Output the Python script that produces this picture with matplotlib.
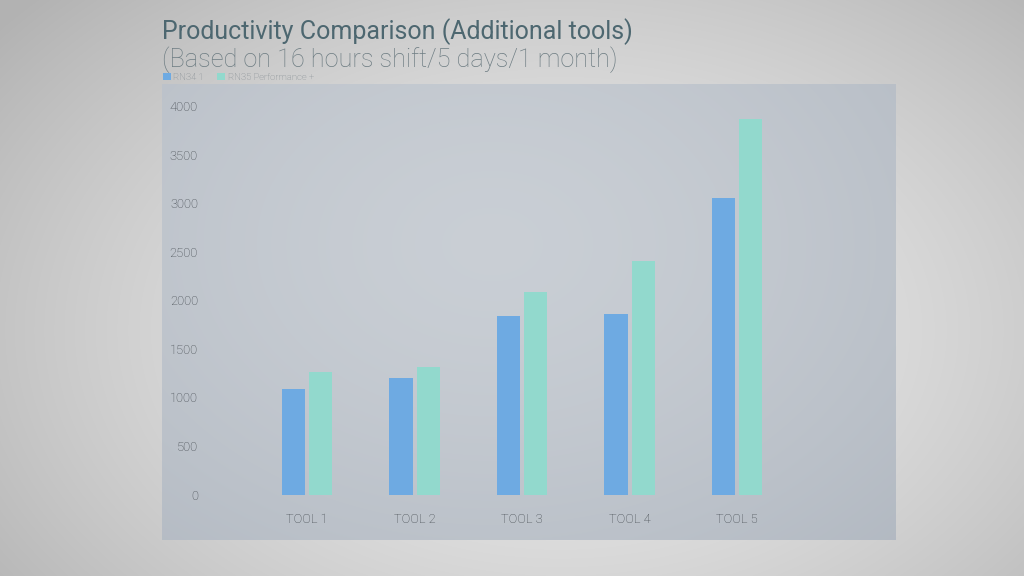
import numpy as np
import matplotlib
matplotlib.use("Agg")
import matplotlib.pyplot as plt

categories = ["TOOL 1", "TOOL 2", "TOOL 3", "TOOL 4", "TOOL 5"]
rn34 = [1085, 1200, 1840, 1860, 3050]
rn35 = [1260, 1315, 2090, 2400, 3865]
series_names = ["RN34 1", "RN35 Performance +"]
yticks = [0, 500, 1000, 1500, 2000, 2500, 3000, 3500, 4000]

W, H = 1024, 576
fig = plt.figure(figsize=(W/100, H/100), dpi=100)

# background radial gradient
bg = fig.add_axes([0, 0, 1, 1])
yy, xx = np.mgrid[0:H, 0:W]
r = np.sqrt(((xx - 560) / 620.0) ** 2 + ((yy - 330) / 420.0) ** 2)
g = np.clip(0.915 - 0.17 * r ** 1.6, 0.70, 0.93)
bg.imshow(np.dstack([g, g, g]), extent=[0, W, H, 0], aspect="auto")
bg.set_xlim(0, W); bg.set_ylim(H, 0); bg.axis("off")

# panel
px0, px1, py0, py1 = 162, 896, 84, 540
pan = fig.add_axes([px0/W, 1 - py1/H, (px1-px0)/W, (py1-py0)/H])
ph, pw = py1 - py0, px1 - px0
yy2, xx2 = np.mgrid[0:ph, 0:pw]
r2 = np.sqrt(((xx2 - 330) / 520.0) ** 2 + ((yy2 - 160) / 380.0) ** 2)
base = np.clip(1 - 0.55 * r2 ** 1.5, 0, 1)
c_in = np.array([0.79, 0.81, 0.835])
c_out = np.array([0.65, 0.68, 0.72])
img = c_out + (c_in - c_out) * base[..., None]
pan.imshow(img, extent=[0, pw, ph, 0], aspect="auto")
pan.axis("off")

# chart axes
ax_l, ax_r = 215, 880
y0px, y4000px = 494.5, 106.0
ax_top = 90
ax = fig.add_axes([ax_l/W, 1 - y0px/H, (ax_r-ax_l)/W, (y0px-ax_top)/H])
ax.patch.set_alpha(0)
x = np.arange(len(categories))
spacing = 107.5
ax.set_xlim((ax_l - 307) / spacing, (ax_r - 307) / spacing)
ymax = 4000 * (y0px - ax_top) / (y0px - y4000px)
ax.set_ylim(0, ymax)
bw = 23.3 / spacing
off = bw / 2 + 2 / spacing
blue = "#6eaae2"
teal = "#92d9cd"
ax.bar(x - off, rn34, width=bw, color=blue, label=series_names[0])
ax.bar(x + off, rn35, width=bw, color=teal, label=series_names[1])
for s in ax.spines.values():
    s.set_visible(False)
ax.set_yticks(yticks)
ax.set_yticklabels([str(v) for v in yticks])
ax.set_xticks(x)
ax.set_xticklabels(categories)
ax.tick_params(axis="both", length=0, colors="#40464c", labelsize=9.3)
ax.tick_params(axis="y", pad=(ax_l - 198) * 0.72)
ax.tick_params(axis="x", pad=13)
for t in ax.get_xticklabels() + ax.get_yticklabels():
    t.set_fontfamily("Roboto")
    t.set_fontweight("light")

fig.text(162/W, 1 - 39.5/H, "Productivity Comparison (Additional tools)", fontsize=18,
         color="#4d6770", family="Roboto", va="baseline", ha="left")
fig.text(162/W, 1 - 67.5/H, "(Based on 16 hours shift/5 days/1 month)", fontsize=18.2,
         color="#6d7c82", family="Roboto", weight="light", va="baseline", ha="left")

leg = ax.legend(loc="center left", bbox_to_anchor=((163 - ax_l)/(ax_r-ax_l), 1 + (ax_top - 77.5)/(y0px-ax_top)),
                ncol=2, frameon=False, fontsize=6.8, handlelength=0.8, handleheight=0.8,
                handletextpad=0.3, columnspacing=1.4, borderaxespad=0, borderpad=0,
                labelcolor="#7e878d")
for t in leg.get_texts():
    t.set_fontfamily("Roboto")
    t.set_fontweight("light")

fig.savefig("out.png", dpi=100)
